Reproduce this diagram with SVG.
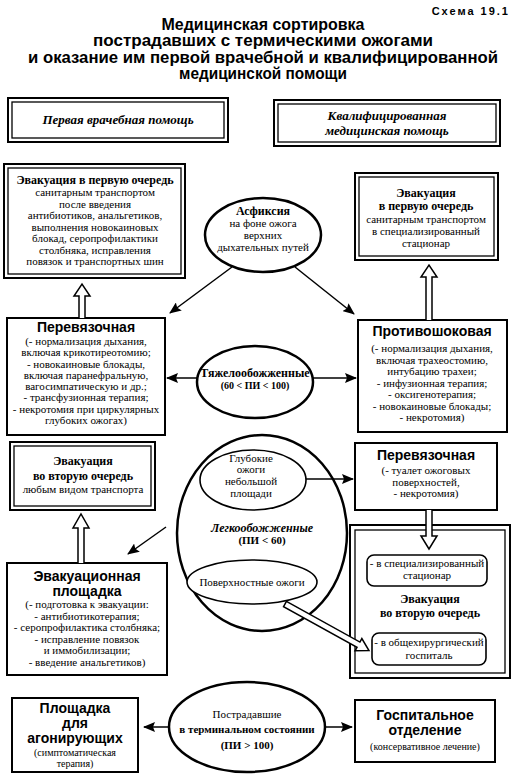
<svg xmlns="http://www.w3.org/2000/svg" width="516" height="777" viewBox="0 0 516 777">
<style>
.t{font-family:"Liberation Serif","Times New Roman",serif;font-size:11px;text-anchor:middle;fill:#000}
.b{font-weight:bold}
.i{font-style:italic}
.h{font-family:"Liberation Sans",Arial,sans-serif;font-weight:bold;font-size:14px;text-anchor:middle;fill:#000}
.ti{font-family:"Liberation Sans",Arial,sans-serif;font-weight:bold;font-size:16px;text-anchor:middle;fill:#000}
.box{fill:#fff;stroke:#000;stroke-width:2}
.in{fill:none;stroke:#000;stroke-width:1.3}
.rb{fill:#fff;stroke:#000;stroke-width:1.6}
.ell{fill:#fff;stroke:#000;stroke-width:2.5}
.ell2{fill:#fff;stroke:#000;stroke-width:1.6}
.ln{stroke:#000;stroke-width:1.5;fill:none}
.hol{fill:#fff;stroke:#000;stroke-width:1.5}
</style>
<defs>
<marker id="ah" viewBox="0 0 12 10" refX="11" refY="5" markerWidth="12" markerHeight="10" markerUnits="userSpaceOnUse" orient="auto">
<path d="M0,0 L12,5 L0,10 L2,5 Z" fill="#000"/>
</marker>
</defs>
<rect width="516" height="777" fill="#fff"/>

<g id="title">
<text x="510" y="15" text-anchor="end" style="font-family:'Liberation Sans',Arial,sans-serif;font-weight:bold;font-size:11px;letter-spacing:2px">Схема 19.1</text>
<text class="ti" x="263" y="30" textLength="203" lengthAdjust="spacingAndGlyphs">Медицинская сортировка</text>
<text class="ti" x="263" y="46" textLength="340" lengthAdjust="spacingAndGlyphs">пострадавших с термическими ожогами</text>
<text class="ti" x="263" y="63" textLength="470" lengthAdjust="spacingAndGlyphs">и оказание им первой врачебной и квалифицированной</text>
<text class="ti" x="263" y="79" textLength="168" lengthAdjust="spacingAndGlyphs">медицинской помощи</text>
</g>

<g id="header-first">
<rect class="box" x="8" y="98" width="220" height="44"/>
<rect class="in" x="12" y="102" width="212" height="36"/>
<text class="t b i" x="118" y="124" style="font-size:13px">Первая врачебная помощь</text>
</g>

<g id="header-qualified">
<rect class="box" x="274" y="100" width="226" height="46"/>
<rect class="in" x="278" y="104" width="218" height="38"/>
<text class="t b i" x="387" y="120" style="font-size:13px">Квалифицированная</text>
<text class="t b i" x="387" y="135" style="font-size:13px">медицинская помощь</text>
</g>

<g id="evac-first-left">
<rect class="box" x="4" y="164" width="181" height="114"/>
<rect class="in" x="8" y="168" width="173" height="106"/>
<text class="t b" x="95" y="184" style="font-size:12px">Эвакуация в первую очередь</text>
<text class="t" x="95" y="196">санитарным транспортом</text>
<text class="t" x="95" y="207.5">после введения</text>
<text class="t" x="95" y="219">антибиотиков, анальгетиков,</text>
<text class="t" x="95" y="230.5">выполнения новокаиновых</text>
<text class="t" x="95" y="242">блокад, серопрофилактики</text>
<text class="t" x="95" y="253.5">столбняка, исправления</text>
<text class="t" x="95" y="265">повязок и транспортных шин</text>
</g>

<g id="asphyxia">
<ellipse class="ell" cx="263" cy="235" rx="58" ry="37"/>
<text class="t b" x="263" y="215" style="font-size:12px">Асфиксия</text>
<text class="t" x="263" y="227">на фоне ожога</text>
<text class="t" x="263" y="239">верхних</text>
<text class="t" x="263" y="251">дыхательных путей</text>
</g>

<g id="evac-first-right">
<rect class="box" x="355" y="173" width="143" height="87"/>
<rect class="in" x="359" y="177" width="135" height="79"/>
<text class="t b" x="426" y="197" style="font-size:12px">Эвакуация</text>
<text class="t b" x="426" y="210" style="font-size:12px">в первую очередь</text>
<text class="t" x="426" y="223">санитарным транспортом</text>
<text class="t" x="426" y="235">в специализированный</text>
<text class="t" x="426" y="247">стационар</text>
</g>

<g id="dressing-left">
<rect class="box" x="7" y="318" width="158" height="117"/>
<text class="h" x="86" y="332">Перевязочная</text>
<text class="t" x="86" y="345">(- нормализация дыхания,</text>
<text class="t" x="86" y="356">включая крикотиреотомию;</text>
<text class="t" x="86" y="367.5">- новокаиновые блокады,</text>
<text class="t" x="86" y="378.5">включая паранефральную,</text>
<text class="t" x="86" y="390">вагосимпатическую и др.;</text>
<text class="t" x="86" y="401">- трансфузионная терапия;</text>
<text class="t" x="86" y="412.5">- некротомия при циркулярных</text>
<text class="t" x="86" y="423.5">глубоких ожогах)</text>
</g>

<g id="severe">
<ellipse class="ell" cx="255" cy="382" rx="58" ry="36"/>
<text class="t b" x="255" y="377" style="font-size:12px">Тяжелообожженные</text>
<text class="t b" x="255" y="389" style="font-size:10px">(60 &lt; ПИ &lt; 100)</text>
</g>

<g id="antishock">
<rect class="box" x="358" y="320" width="149" height="112"/>
<text class="h" x="432" y="336">Противошоковая</text>
<text class="t" x="432" y="352">(- нормализация дыхания,</text>
<text class="t" x="432" y="363.5">включая трахеостомию,</text>
<text class="t" x="432" y="375">интубацию трахеи;</text>
<text class="t" x="432" y="386.5">- инфузионная терапия;</text>
<text class="t" x="432" y="398">- оксигенотерапия;</text>
<text class="t" x="432" y="409.5">- новокаиновые блокады;</text>
<text class="t" x="432" y="421">- некротомия)</text>
</g>

<g id="evac-second-left">
<rect class="box" x="10" y="442" width="145" height="68"/>
<rect class="in" x="14" y="446" width="137" height="60"/>
<text class="t b" x="83" y="465" style="font-size:12px">Эвакуация</text>
<text class="t b" x="83" y="480" style="font-size:12px">во вторую очередь</text>
<text class="t" x="83" y="493">любым видом транспорта</text>
</g>

<g id="evac-site">
<rect class="box" x="7" y="563" width="160" height="112"/>
<text class="h" x="87" y="581">Эвакуационная</text>
<text class="h" x="87" y="596">площадка</text>
<text class="t" x="87" y="608">(- подготовка к эвакуации:</text>
<text class="t" x="87" y="619.5">- антибиотикотерапия;</text>
<text class="t" x="87" y="631">- серопрофилактика столбняка;</text>
<text class="t" x="87" y="642.5">- исправление повязок</text>
<text class="t" x="87" y="654">и иммобилизации;</text>
<text class="t" x="87" y="665.5">- введение анальгетиков)</text>
</g>

<g id="light">
<ellipse class="ell" cx="262" cy="533" rx="85" ry="98"/>
<text class="t b i" x="262" y="532" style="font-size:12px">Легкообожженные</text>
<text class="t b" x="262" y="544" style="font-size:11px">(ПИ &lt; 60)</text>
</g>

<g id="deep-small">
<ellipse class="ell2" cx="253" cy="480" rx="53" ry="30"/>
<text class="t" x="251" y="462">Глубокие</text>
<text class="t" x="251" y="473">ожоги</text>
<text class="t" x="251" y="485">небольшой</text>
<text class="t" x="251" y="497">площади</text>
</g>

<g id="superficial">
<ellipse class="ell2" cx="252" cy="582" rx="65" ry="22"/>
<text class="t" x="252" y="586">Поверхностные ожоги</text>
</g>

<g id="dressing-right">
<rect class="box" x="355" y="443" width="142" height="67"/>
<text class="h" x="426" y="460">Перевязочная</text>
<text class="t" x="426" y="474">(- туалет ожоговых</text>
<text class="t" x="426" y="485.5">поверхностей,</text>
<text class="t" x="426" y="497">- некротомия)</text>
</g>

<g id="evac-second-right">
<rect class="box" x="350" y="525" width="160" height="153"/>
<rect class="in" x="355" y="530" width="150" height="143"/>
<rect class="rb" x="367" y="555" width="120" height="31" rx="7"/>
<text class="t" x="427" y="567">- в специализированный</text>
<text class="t" x="427" y="579">стационар</text>
<text class="t b" x="430" y="603" style="font-size:12px">Эвакуация</text>
<text class="t b" x="430" y="617" style="font-size:12px">во вторую очередь</text>
<rect class="rb" x="372" y="633" width="114" height="32" rx="7"/>
<text class="t" x="429" y="646">- в общехирургический</text>
<text class="t" x="429" y="659">госпиталь</text>
</g>

<g id="agony">
<rect class="box" x="12" y="698" width="126" height="74"/>
<text class="h" x="75" y="713">Площадка</text>
<text class="h" x="75" y="728">для</text>
<text class="h" x="75" y="743">агонирующих</text>
<text class="t" x="75" y="756" style="font-size:10px">(симптоматическая</text>
<text class="t" x="75" y="767" style="font-size:10px">терапия)</text>
</g>

<g id="terminal">
<ellipse class="ell" cx="247" cy="727" rx="78" ry="45"/>
<text class="t" x="247" y="718">Пострадавшие</text>
<text class="t b" x="247" y="733">в терминальном состоянии</text>
<text class="t b" x="247" y="749">(ПИ &gt; 100)</text>
</g>

<g id="hospital-dept">
<rect class="box" x="355" y="700" width="140" height="62"/>
<text class="h" x="425" y="720">Госпитальное</text>
<text class="h" x="425" y="735">отделение</text>
<text class="t" x="425" y="750" style="font-size:10px">(консервативное лечение)</text>
</g>

<g id="connectors">
<line class="ln" x1="232" y1="267" x2="170" y2="313" marker-end="url(#ah)"/>
<line class="ln" x1="295" y1="267" x2="354" y2="314" marker-end="url(#ah)"/>
<line class="ln" x1="197" y1="378" x2="167" y2="378" marker-end="url(#ah)"/>
<line class="ln" x1="313" y1="378" x2="356" y2="378" marker-end="url(#ah)"/>
<line class="ln" x1="306" y1="479" x2="353" y2="479" marker-end="url(#ah)"/>
<line class="ln" x1="166" y1="527" x2="128" y2="554" marker-end="url(#ah)"/>
<line class="ln" x1="169" y1="727" x2="144" y2="727" marker-end="url(#ah)"/>
<line class="ln" x1="325" y1="727" x2="352" y2="727" marker-end="url(#ah)"/>
<path class="hol" d="M79,318 L79,296 L74,296 L82,284 L90,296 L85,296 L85,318"/>
<path class="hol" d="M426,320 L426,277 L421,277 L429,265 L437,277 L432,277 L432,320"/>
<path class="hol" d="M78,563 L78,528 L73,528 L81,514 L89,528 L84,528 L84,563"/>
<path class="hol" d="M426,510 L426,536 L421,536 L429,549 L437,536 L432,536 L432,510"/>
<path class="hol" transform="translate(285,604) rotate(29)" d="M0,-3 L84,-3 L84,-7 L96,0 L84,7 L84,3 L0,3 Z"/>
</g>
</svg>
